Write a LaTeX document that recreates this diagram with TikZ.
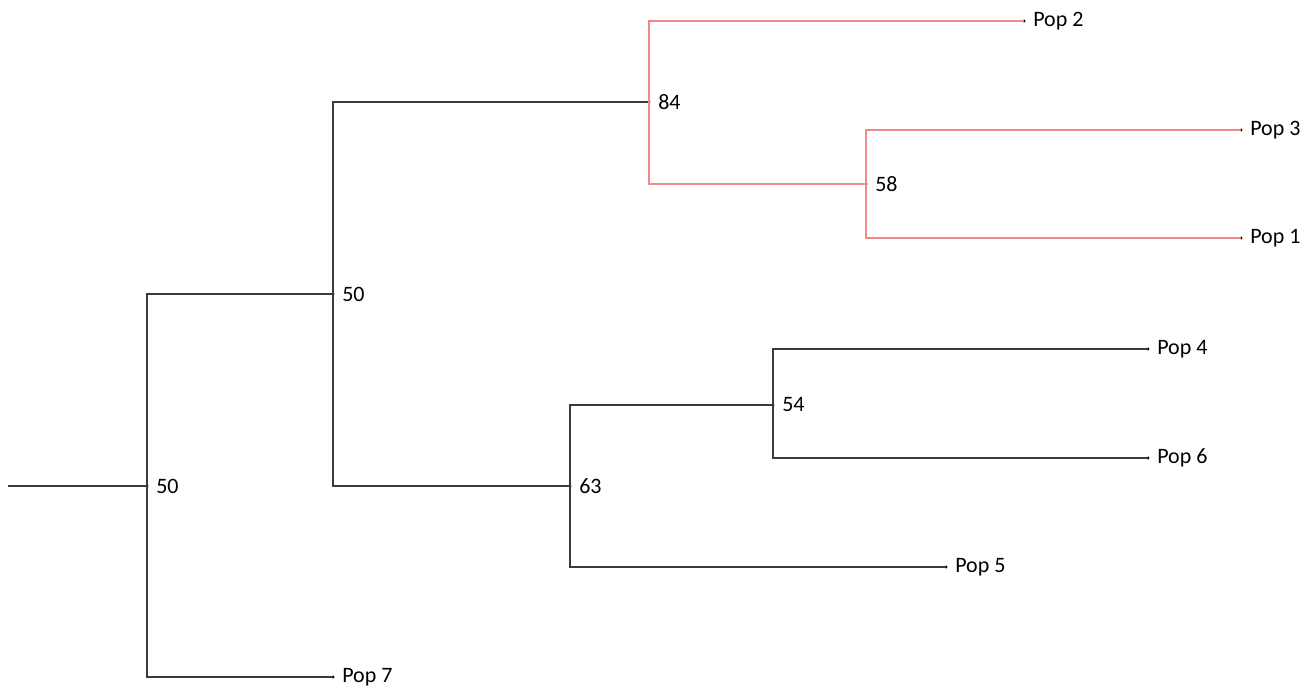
\documentclass[tikz,border=0pt]{standalone}
\usepackage{fontspec}
\setmainfont{Carlito}

\definecolor{branch-black}{HTML}{3a3a3a}
\definecolor{clade-red}{HTML}{f08a8a}
\tikzstyle{tree-point}=[circle, fill=black, inner sep=1.1pt]
\tikzstyle{branch}=[line width=1.4pt, color=branch-black]
\tikzstyle{clade}=[line width=1.4pt, color=clade-red]

\begin{document}
\begin{tikzpicture}[x=1pt, y=-1pt, font=\fontsize{22}{26}\selectfont,
                    every label/.append style={xshift=4pt}]
      \useasboundingbox (0,0) rectangle (1307,686);
      % internal nodes with support values
      \coordinate (stub) at (8,486);
      \node (root) at (147,486) [tree-point, label=right:{50}] {};
      \node (inner50) at (333,294) [tree-point, label=right:{50}] {};
      \node (inner84) at (649,102) [tree-point, label=right:{84}] {};
      \node (inner58) at (866,184) [tree-point, label=right:{58}] {};
      \node (inner63) at (570,486) [tree-point, label=right:{63}] {};
      \node (inner54) at (773,405) [tree-point, label=right:{54}] {};
      % leaves
      \node (pop2) at (1024,21) [tree-point, label=right:{Pop 2}] {};
      \node (pop3) at (1241,130) [tree-point, label=right:{Pop 3}] {};
      \node (pop1) at (1241,238) [tree-point, label=right:{Pop 1}] {};
      \node (pop4) at (1148,349) [tree-point, label=right:{Pop 4}] {};
      \node (pop6) at (1148,458) [tree-point, label=right:{Pop 6}] {};
      \node (pop5) at (946,567) [tree-point, label=right:{Pop 5}] {};
      \node (pop7) at (333,677) [tree-point, label=right:{Pop 7}] {};
      % branches
      \draw[branch] (stub) -- (root.center);
      \draw[branch] (root.center) |- (inner50.center);
      \draw[branch] (root.center) |- (pop7.center);
      \draw[branch] (inner50.center) |- (inner84.center);
      \draw[branch] (inner50.center) |- (inner63.center);
      \draw[branch] (inner63.center) |- (inner54.center);
      \draw[branch] (inner63.center) |- (pop5.center);
      \draw[branch] (inner54.center) |- (pop4.center);
      \draw[branch] (inner54.center) |- (pop6.center);
      \draw[clade] (inner84.center) |- (pop2.center);
      \draw[clade] (inner84.center) |- (inner58.center);
      \draw[clade] (inner58.center) |- (pop3.center);
      \draw[clade] (inner58.center) |- (pop1.center);
    \end{tikzpicture}
\end{document}
